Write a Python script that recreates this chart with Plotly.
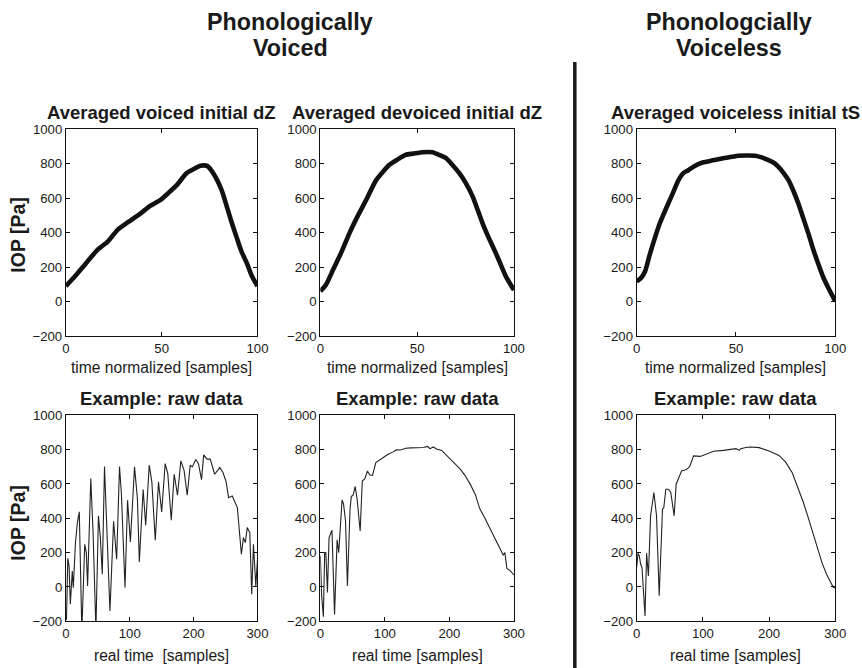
import plotly.graph_objects as go

# ---------------- data ----------------
avg_voiced_x = [0, 5, 9, 16.5, 22, 27, 33, 39, 44, 49.4, 54, 58, 63, 67, 70, 72, 73.7, 76, 78.9, 81.5, 84, 86.5, 89, 91.5, 94.5, 97, 100]
avg_voiced_y = [90, 150, 203, 300, 350, 416, 465, 512, 555, 590, 635, 677, 745, 770, 787, 790, 787, 760, 706, 640, 551, 460, 377, 295, 222, 150, 90]

avg_devoiced_x = [0, 3, 6.5, 11, 15, 19, 23.7, 28.9, 35.7, 40, 44, 48, 53, 58, 61, 64.9, 68, 71.8, 75, 78.7, 81, 83.8, 87, 90.7, 93, 95.9, 100]
avg_devoiced_y = [60, 100, 183, 290, 396, 490, 590, 706, 793, 825, 851, 858, 866, 866, 852, 832, 795, 745, 690, 609, 540, 454, 370, 280, 220, 145, 67]

avg_voiceless_x = [0, 2, 4.2, 6.5, 9.2, 11.5, 14.3, 17.5, 21, 23.5, 26, 29, 32.8, 37, 42.9, 47, 51.3, 55, 59.7, 63, 66.4, 69, 71.4, 74, 76.5, 79, 81.5, 84, 86.6, 89, 91.6, 94, 96.6, 100]
avg_voiceless_y = [117, 135, 175, 270, 371, 450, 527, 610, 703, 745, 762, 785, 805, 815, 830, 838, 846, 847, 846, 836, 820, 805, 781, 745, 703, 640, 566, 480, 390, 300, 214, 140, 78, 3]

raw_voiced_x = [0, 1, 3, 5, 7, 10, 11.6, 15, 18, 21, 25, 29.5, 32, 34, 39, 42.6, 47, 51, 54, 57, 60.5, 64.7, 69, 74.7, 79.5, 84, 87, 92.6, 96.6,
                101, 107.5, 112, 115, 121, 125, 130.5, 134.6, 140, 145, 150, 155.5, 159.6, 165, 169.6, 174.8, 180, 185, 190, 194.7, 198,
                203.4, 207.6, 212.4, 215.8, 221, 226, 233, 241, 246, 250.6, 254.8, 260.5, 268.5, 274.8, 278, 281, 284, 288, 291,
                293.7, 297.4, 300]
raw_voiced_y = [-190, -188, 167, 122, -101, 93, -4, 258, 375, 437, -260, 248, 200, 6, 631, 316, -250, 414, 287, 74, 701, 277, -140, 382, 161, 701, 540, -4, 505,
                262, 699, 515, 146, 567, 359, 709, 612, 272, 612, 437, 718, 660, 388, 656, 534, 734, 680, 534, 709, 699,
                742, 718, 625, 769, 744, 744, 656, 695, 666, 617, 520, 530, 462, 190, 287, 258, 346, 316, -43,
                248, 6, 160]

raw_devoiced_x = [0, 2, 4.7, 6.7, 8.5, 11, 13.5, 15.5, 18, 22, 26, 28.5, 33.7, 36, 39, 42, 46, 48, 50.8, 54, 57, 61.7, 65, 69, 73, 76.7, 80.8, 86, 92, 97,
                  105, 112, 118, 124, 132.6, 140, 150, 160, 166, 170, 175, 180, 188, 196, 205, 216.5, 224, 232, 240, 247, 255, 263, 270, 278,
                  283.5, 286, 289, 294, 300]
raw_devoiced_y = [181, -52, -173, 200, 200, -33, 287, 306, 330, -160, 274, 200, 507, 482, 384, 6, 452, 527, 534, 585, 511, 326, 617, 631, 675, 652, 650, 724, 740, 750,
                  773, 785, 798, 797, 808, 810, 812, 812, 818, 805, 815, 803, 795, 764, 735, 687, 650, 600, 540, 456, 400, 340, 280, 224,
                  185, 200, 108, 95, 70]

raw_voiceless_x = [0, 2, 4, 6, 8, 12.6, 15, 17.7, 21, 26, 30, 34, 39, 41, 44, 48, 51.5, 56.6, 59.6, 63, 68, 72, 76, 80, 86, 96, 106, 116, 131, 145,
                   150, 155, 157, 165, 172, 185, 200, 215, 225, 235, 245, 252, 260, 268, 275, 280, 287, 293, 297, 300]
raw_voiceless_y = [113, 196, 180, 132, 113, -169, 196, 64, 414, 550, 414, -52, 453, 462, 569, 569, 550, 414, 598, 627, 676, 680, 686, 700, 763, 760, 775, 790, 795, 800,
                   805, 795, 805, 812, 815, 811, 791, 766, 727, 665, 568, 490, 393, 296, 198, 140, 72, 23, -2, -6]

y_ticks = [-200, 0, 200, 400, 600, 800, 1000]
x_ticks_norm = [0, 50, 100]
x_ticks_real = [0, 100, 200, 300]

top_titles = ["Averaged voiced initial dZ", "Averaged devoiced initial dZ", "Averaged voiceless initial tS"]
bottom_titles = ["Example: raw data", "Example: raw data", "Example: raw data"]
top_xlabels = ["time normalized [samples]"] * 3
bottom_xlabels = ["real time  [samples]", "real time [samples]", "real time [samples]"]
y_label = "IOP [Pa]"
group_titles = [("Phonologically", "Voiced"), ("Phonologcially", "Voiceless")]

# ---------------- layout helpers ----------------
W, H = 880, 690
FONT = "Liberation Sans, Arial, Helvetica, sans-serif"
TXT = "#1a1a1a"
# screenshot mapping compensation (page px -> picture px)
SX, SY, OX, OY = 0.985, 0.978, 3.0, 6.9


def px(X):
    return ((X - OX) / SX) / W


def py(Y):
    return 1 - ((Y - OY) / SY) / H


cols = [(65, 257), (320, 514), (637, 836)]
rows = [(129, 336), (415, 621)]
title_y = [112, 398]
xlabel_y = [367, 655]
ylabel_y = [234, 522]

fig = go.Figure()

traces = [
    (avg_voiced_x, avg_voiced_y, 0, 0),
    (avg_devoiced_x, avg_devoiced_y, 0, 1),
    (avg_voiceless_x, avg_voiceless_y, 0, 2),
    (raw_voiced_x, raw_voiced_y, 1, 0),
    (raw_devoiced_x, raw_devoiced_y, 1, 1),
    (raw_voiceless_x, raw_voiceless_y, 1, 2),
]

layout_axes = {}
annotations = []
for i, (xs, ys, r, c) in enumerate(traces):
    n = i + 1
    xa = "x" if n == 1 else f"x{n}"
    ya = "y" if n == 1 else f"y{n}"
    if r == 0:
        line = dict(color="#111111", width=4.6, shape="spline", smoothing=0.6)
    else:
        line = dict(color="#222222", width=1.1)
    fig.add_trace(go.Scatter(x=xs, y=ys, mode="lines", line=line, xaxis=xa, yaxis=ya,
                             showlegend=False, hoverinfo="skip"))
    x0, x1 = cols[c]
    y0, y1 = rows[r]
    xkey = "xaxis" if n == 1 else f"xaxis{n}"
    ykey = "yaxis" if n == 1 else f"yaxis{n}"
    common = dict(showline=True, linecolor="#111111", linewidth=1, mirror="ticks",
                  ticks="inside", ticklen=4, tickcolor="#111111", showgrid=False, zeroline=False,
                  tickfont=dict(family=FONT, size=13.2, color=TXT), fixedrange=True)
    layout_axes[xkey] = dict(domain=[px(x0), px(x1)], anchor=ya,
                             range=[0, 100] if r == 0 else [0, 300],
                             tickvals=x_ticks_norm if r == 0 else x_ticks_real, **common)
    layout_axes[ykey] = dict(domain=[py(y1), py(y0)], anchor=xa, range=[-200, 1000],
                             tickvals=y_ticks, **common)
    # panel title
    title = top_titles[c] if r == 0 else bottom_titles[c]
    annotations.append(dict(x=px((x0 + x1) / 2), y=py(title_y[r]), xref="paper", yref="paper",
                            text=f"<b>{title}</b>", showarrow=False, xanchor="center", yanchor="middle",
                            font=dict(family=FONT, size=18.5, color=TXT)))
    # x label
    xl = top_xlabels[c] if r == 0 else bottom_xlabels[c]
    annotations.append(dict(x=px((x0 + x1) / 2), y=py(xlabel_y[r]), xref="paper", yref="paper",
                            text=xl.replace("  ", "&nbsp; "), showarrow=False, xanchor="center", yanchor="middle",
                            font=dict(family=FONT, size=15.6, color=TXT)))

# y labels (left column)
for yc in ylabel_y:
    annotations.append(dict(x=px(17.5), y=py(yc), xref="paper", yref="paper",
                            text=f"<b>{y_label}</b>", showarrow=False, textangle=-90,
                            xanchor="center", yanchor="middle",
                            font=dict(family=FONT, size=19.5, color=TXT)))

# group titles
for (l1, l2), cx in zip(group_titles, [290, 730]):
    annotations.append(dict(x=px(cx), y=py(22), xref="paper", yref="paper", text=f"<b>{l1}</b>",
                            showarrow=False, xanchor="center", yanchor="middle",
                            font=dict(family=FONT, size=23.3, color=TXT)))
    annotations.append(dict(x=px(cx), y=py(48), xref="paper", yref="paper", text=f"<b>{l2}</b>",
                            showarrow=False, xanchor="center", yanchor="middle",
                            font=dict(family=FONT, size=23.3, color=TXT)))

fig.update_layout(
    width=W, height=H, margin=dict(l=0, r=0, t=0, b=0),
    paper_bgcolor="white", plot_bgcolor="white",
    annotations=annotations,
    shapes=[dict(type="line", xref="paper", yref="paper", x0=px(575), x1=px(575), y0=0, y1=py(62),
                 line=dict(color="#1a1a1a", width=3.5))],
    **layout_axes,
)

fig.write_html("out.html", config={"displayModeBar": False},
               post_script="document.body.style.margin='0';document.body.style.overflow='hidden';")
